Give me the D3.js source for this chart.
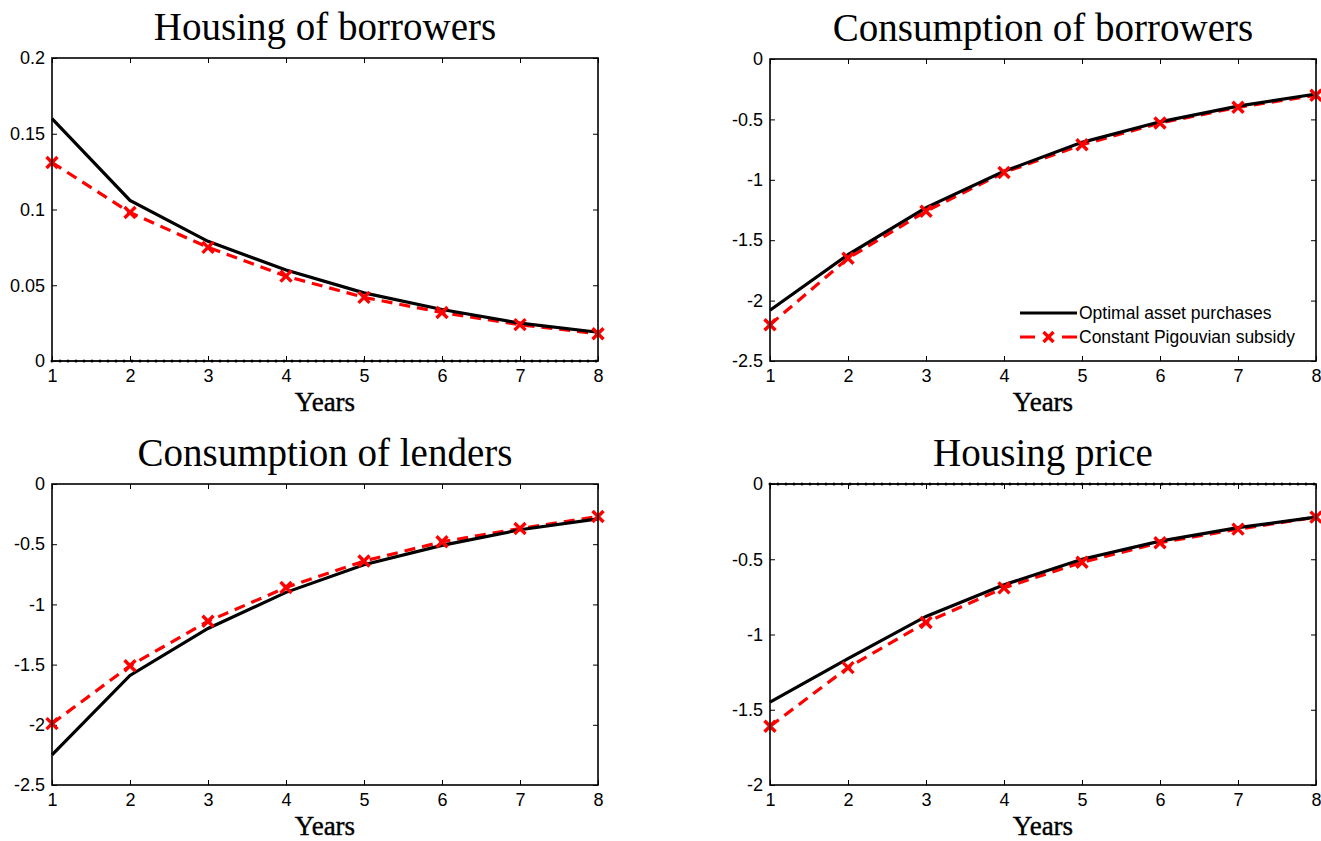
<!DOCTYPE html>
<html>
<head>
<meta charset="utf-8">
<script src="https://cdn.jsdelivr.net/npm/d3@7"></script>
<style>
  html, body { margin: 0; padding: 0; background: #fff; }
  svg { display: block; }
</style>
</head>
<body>
<svg id="chart" width="1321" height="841"></svg>
<script>
// Horizon in years
const years = [1, 2, 3, 4, 5, 6, 7, 8];

// Impulse responses: optimal asset purchases (solid) vs constant Pigouvian subsidy (dashed)
const housingBorrowersOpt = [0.160, 0.106, 0.079, 0.060, 0.045, 0.034, 0.025, 0.019];
const housingBorrowersPig = [0.131, 0.098, 0.075, 0.056, 0.042, 0.032, 0.024, 0.018];

const consBorrowersOpt = [-2.08, -1.62, -1.23, -0.93, -0.69, -0.52, -0.39, -0.29];
const consBorrowersPig = [-2.20, -1.65, -1.26, -0.94, -0.71, -0.53, -0.40, -0.30];

const consLendersOpt = [-2.25, -1.59, -1.20, -0.90, -0.67, -0.51, -0.38, -0.29];
const consLendersPig = [-1.99, -1.51, -1.14, -0.86, -0.64, -0.48, -0.37, -0.27];

const housingPriceOpt = [-1.45, -1.16, -0.88, -0.67, -0.50, -0.38, -0.29, -0.22];
const housingPricePig = [-1.61, -1.22, -0.92, -0.69, -0.52, -0.39, -0.30, -0.22];

// Y tick values per panel
const ticksHousingBorrowers = [0, 0.05, 0.1, 0.15, 0.2];
const ticksConsBorrowers = [-2.5, -2, -1.5, -1, -0.5, 0];
const ticksConsLenders = [-2.5, -2, -1.5, -1, -0.5, 0];
const ticksHousingPrice = [-2, -1.5, -1, -0.5, 0];

const seriesNames = ["Optimal asset purchases", "Constant Pigouvian subsidy"];

const panels = [
  { title: "Housing of borrowers", opt: housingBorrowersOpt, pig: housingBorrowersPig,
    domain: [0, 0.2], ticks: ticksHousingBorrowers, zeroLine: true,
    box: { x: 52, y: 58, w: 546, h: 303 } },
  { title: "Consumption of borrowers", opt: consBorrowersOpt, pig: consBorrowersPig,
    domain: [-2.5, 0], ticks: ticksConsBorrowers, zeroLine: false, legend: true,
    box: { x: 770, y: 59, w: 546, h: 302 } },
  { title: "Consumption of lenders", opt: consLendersOpt, pig: consLendersPig,
    domain: [-2.5, 0], ticks: ticksConsLenders, zeroLine: false,
    box: { x: 52, y: 484, w: 546, h: 301 } },
  { title: "Housing price", opt: housingPriceOpt, pig: housingPricePig,
    domain: [-2, 0], ticks: ticksHousingPrice, zeroLine: true,
    box: { x: 770, y: 484, w: 546, h: 301 } }
];

const svg = d3.select("#chart");
const sansFont = "'Liberation Sans', Arial, sans-serif";
const serifFont = "'Liberation Serif', 'DejaVu Serif', serif";
const red = "#ff0000";

function xMarker(sel, size, width) {
  sel.append("path")
    .attr("d", `M${-size},${-size}L${size},${size}M${-size},${size}L${size},${-size}`)
    .attr("stroke", red)
    .attr("stroke-width", width)
    .attr("fill", "none");
}

panels.forEach(p => {
  const b = p.box;
  const g = svg.append("g").attr("transform", `translate(${b.x},${b.y})`);

  const x = d3.scaleLinear().domain([1, 8]).range([0, b.w]);
  const y = d3.scaleLinear().domain(p.domain).range([b.h, 0]);
  const tl = 5;

  const fmt = d => d3.format("~g")(d).replace("\u2212", "-");

  const yAxisL = d3.axisLeft(y).tickValues(p.ticks).tickSize(-tl).tickPadding(7).tickFormat(fmt);
  const yAxisR = d3.axisRight(y).tickValues(p.ticks).tickSize(-tl).tickFormat("");
  const xAxisB = d3.axisBottom(x).tickValues(years).tickSize(-tl).tickPadding(8).tickFormat(d3.format("d"));
  const xAxisT = d3.axisTop(x).tickValues(years).tickSize(-tl).tickFormat("");

  const styleAxis = a => {
    a.attr("font-size", null).attr("font-family", null);
    a.select(".domain").remove();
    a.selectAll(".tick line").attr("stroke", "#000").attr("stroke-width", 1);
    a.selectAll(".tick text").attr("fill", "#000")
      .attr("font-family", sansFont).attr("font-size", 18);
  };

  g.append("g").call(yAxisL).call(styleAxis);
  g.append("g").attr("transform", `translate(${b.w},0)`).call(yAxisR).call(styleAxis);
  g.append("g").attr("transform", `translate(0,${b.h})`).call(xAxisB).call(styleAxis);
  g.append("g").call(xAxisT).call(styleAxis);

  // Dotted zero reference line
  if (p.zeroLine) {
    g.append("line")
      .attr("x1", 0).attr("x2", b.w)
      .attr("y1", y(0)).attr("y2", y(0))
      .attr("stroke", "#000").attr("stroke-width", 1.2);
    g.append("line")
      .attr("x1", 0).attr("x2", b.w)
      .attr("y1", y(0)).attr("y2", y(0))
      .attr("stroke", "#000").attr("stroke-width", 3)
      .attr("stroke-dasharray", "0,8")
      .attr("stroke-linecap", "round");
  }

  const line = d3.line().x((d, i) => x(years[i])).y(d => y(d));

  // Constant Pigouvian subsidy (dashed red with x markers)
  g.append("path").datum(p.pig)
    .attr("d", line)
    .attr("fill", "none")
    .attr("stroke", red)
    .attr("stroke-width", 3.2)
    .attr("stroke-dasharray", "11,7");

  // Optimal asset purchases (solid black)
  g.append("path").datum(p.opt)
    .attr("d", line)
    .attr("fill", "none")
    .attr("stroke", "#000")
    .attr("stroke-width", 3.2);

  g.selectAll(".mk").data(p.pig).enter().append("g")
    .attr("transform", (d, i) => `translate(${x(years[i])},${y(d)})`)
    .each(function () { xMarker(d3.select(this), 5.5, 3.4); });

  // Box frame
  g.append("rect")
    .attr("x", 0).attr("y", 0).attr("width", b.w).attr("height", b.h)
    .attr("fill", "none").attr("stroke", "#000").attr("stroke-width", 1.6);

  // Title
  svg.append("text")
    .attr("x", b.x + b.w / 2).attr("y", b.y - 18)
    .attr("text-anchor", "middle")
    .style("font-family", serifFont)
    .style("font-size", "39px")
    .attr("fill", "#000")
    .text(p.title);

  // X axis label
  svg.append("text")
    .attr("x", b.x + b.w / 2).attr("y", b.y + b.h + 50)
    .attr("text-anchor", "middle")
    .style("font-family", serifFont)
    .style("font-size", "27px")
    .attr("fill", "#000")
    .attr("stroke", "#000").attr("stroke-width", 0.4)
    .text("Years");

  // Legend
  if (p.legend) {
    const lg = g.append("g").attr("transform", `translate(${1020 - b.x},${313 - b.y})`);
    seriesNames.forEach((name, i) => {
      const row = lg.append("g").attr("transform", `translate(0,${i * 24})`);
      if (i === 0) {
        row.append("line").attr("x1", 0).attr("x2", 57).attr("y1", 0).attr("y2", 0)
          .attr("stroke", "#000").attr("stroke-width", 3.2);
      } else {
        row.append("line").attr("x1", 0).attr("x2", 57).attr("y1", 0).attr("y2", 0)
          .attr("stroke", red).attr("stroke-width", 3.2).attr("stroke-dasharray", "15,27");
        const m = row.append("g").attr("transform", "translate(28.5,0)");
        xMarker(m, 5, 3.4);
      }
      row.append("text")
        .attr("x", 59).attr("y", 0).attr("dy", "0.35em")
        .attr("font-family", sansFont).attr("font-size", 17.5)
        .attr("fill", "#000")
        .text(name);
    });
  }
});
</script>
</body>
</html>
